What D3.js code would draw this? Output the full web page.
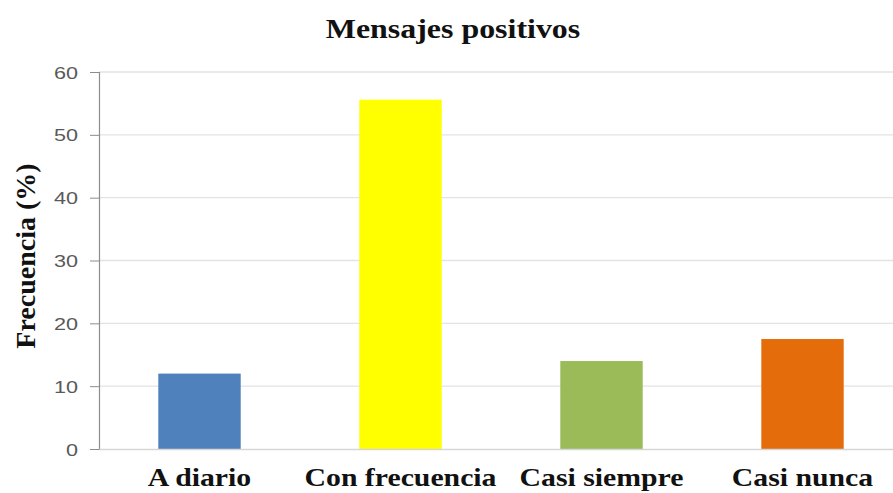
<!DOCTYPE html>
<html><head><meta charset="utf-8">
<script src="https://cdn.jsdelivr.net/npm/d3@7"></script>
<style>body{margin:0;background:#fff}svg{display:block}</style>
</head><body>
<svg id="c" width="893" height="493"></svg>
<script>
const categories = ["A diario", "Con frecuencia", "Casi siempre", "Casi nunca"];
const values = [12, 55.6, 14, 17.5];
const colors = ["#4f81bd", "#ffff00", "#9bbb59", "#e46c0a"];
const yTicks = [0, 10, 20, 30, 40, 50, 60];
const title = "Mensajes positivos";
const yTitle = "Frecuencia (%)";

const svg = d3.select("#c");
const m = {left: 99, top: 72, bottom: 449, right: 903};
const x = d3.scaleBand().domain(categories).range([m.left, m.right]).paddingInner(0.59).paddingOuter(0.295);
const y = d3.scaleLinear().domain([0, 60]).range([m.bottom, m.top]);

function stretch(sel, f) {
  sel.each(function () {
    const w = this.getComputedTextLength();
    d3.select(this).attr("textLength", w * f).attr("lengthAdjust", "spacingAndGlyphs");
  });
}
const serif = "Liberation Serif, Times New Roman, serif";

// gridlines
svg.append("g").selectAll("line").data(yTicks.filter(d => d > 0)).join("line")
  .attr("x1", m.left).attr("x2", 893).attr("y1", d => y(d)).attr("y2", d => y(d))
  .attr("stroke", "#e3e3e3").attr("stroke-width", 1.3);

// bars
svg.append("g").selectAll("rect").data(categories).join("rect")
  .attr("x", d => x(d)).attr("width", x.bandwidth())
  .attr("y", (d, i) => y(values[i])).attr("height", (d, i) => y(0) - y(values[i]))
  .attr("fill", (d, i) => colors[i]);

// y axis
const ya = svg.append("g").attr("transform", `translate(${m.left},0)`)
  .call(d3.axisLeft(y).tickValues(yTicks).tickSize(9).tickPadding(12));
ya.select(".domain").attr("stroke", "#8c8c8c").attr("stroke-width", 1.2);
ya.selectAll(".tick line").attr("stroke", "#8c8c8c");
ya.selectAll(".tick text").attr("fill", "#595959").attr("dy", "0.36em")
  .style("font-family", "Liberation Sans, Arial, sans-serif").style("font-size", "17px");
stretch(ya.selectAll(".tick text"), 1.27);

// x axis baseline
const xa = svg.append("g").attr("transform", `translate(0,${m.bottom})`)
  .call(d3.axisBottom(x).tickSize(0));
xa.select(".domain").attr("stroke", "#d6d6d6").attr("stroke-width", 1.3);
xa.selectAll(".tick text").attr("fill", "#111").attr("dy", 0).attr("y", 37)
  .style("font-family", serif).style("font-size", "25px").style("font-weight", "bold");
stretch(xa.selectAll(".tick text"), 1.19);

const t = svg.append("text").attr("x", 453).attr("y", 38).attr("text-anchor", "middle")
  .style("font-family", serif).style("font-size", "28px").style("font-weight", "bold")
  .attr("fill", "#111").text(title);
stretch(t, 1.14);

svg.append("text").attr("transform", `translate(35,256) rotate(-90)`).attr("text-anchor", "middle")
  .style("font-family", serif).style("font-size", "28px").style("font-weight", "bold")
  .attr("fill", "#111").text(yTitle);
</script>
</body></html>
